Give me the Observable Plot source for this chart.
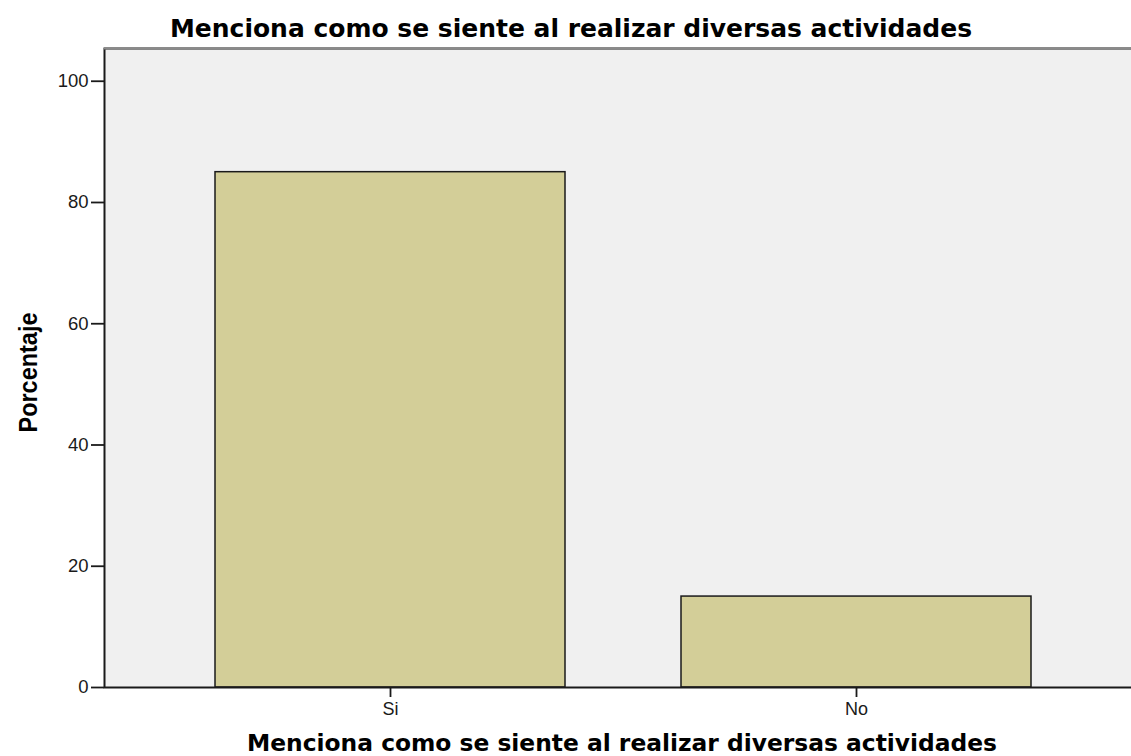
<!DOCTYPE html>
<html>
<head>
<meta charset="utf-8">
<script src="https://cdn.jsdelivr.net/npm/d3@7"></script>
<script src="https://cdn.jsdelivr.net/npm/@observablehq/plot@0.6"></script>
<style>
  html, body { margin: 0; padding: 0; background: #fff; }
  #wrap { position: relative; width: 1131px; height: 756px; overflow: hidden; }
  .t { position: absolute; white-space: nowrap; font-family: "DejaVu Sans", sans-serif; font-weight: bold;
       line-height: 1; transform-origin: 0 0; color: #000; }
  #chart { position: absolute; left: 0; top: 40px; }
</style>
</head>
<body>
<div id="wrap">
  <div id="title" class="t" style="font-size:24px; top:17.4px;">Menciona como se siente al realizar diversas actividades</div>
  <div id="chart"></div>
  <div id="xlabel" class="t" style="font-size:23px; top:732px;">Menciona como se siente al realizar diversas actividades</div>
</div>
<script>
// Data
const categories = ["Si", "No"];
const percentages = [85, 15];
const yTicks = [0, 20, 40, 60, 80, 100];
const yLabel = "Porcentaje";

const data = categories.map((c, i) => ({category: c, value: percentages[i]}));

const yTop = 105.4;
const tickFont = "'Liberation Sans', Arial, sans-serif";

const plot = Plot.plot({
  width: 1131,
  height: 685,
  marginLeft: 104,
  marginRight: -2,
  marginTop: 8,
  marginBottom: 38,
  style: {fontFamily: tickFont, fontSize: "18px", color: "#1a1a1a", background: "transparent"},
  x: {domain: categories, range: [104, 1142], paddingInner: 0.248, paddingOuter: 0.2355, label: null},
  y: {domain: [0, yTop], label: null},
  marks: [
    Plot.frame({fill: "#f0f0f0", stroke: null}),
    Plot.barY(data, {x: "category", y: "value", fill: "#d3ce98", stroke: "#1a1a1a", strokeWidth: 1.5}),
    Plot.frame({stroke: "#1a1a1a", strokeWidth: 2, fill: null}),
    Plot.ruleY([yTop], {stroke: "#8a8a8a", strokeWidth: 2}),
    Plot.axisY({ticks: yTicks, tickSize: 13, tickPadding: 3, tickFormat: d => String(d), strokeWidth: 1.8,
      stroke: "#1a1a1a", fill: "#1a1a1a", fontSize: 18.5, fontFamily: tickFont, label: null}),
    Plot.axisX({tickSize: 10, tickPadding: 5, strokeWidth: 1.8, stroke: "#1a1a1a", fill: "#1a1a1a",
      fontSize: 18, fontFamily: tickFont, label: null}),
    Plot.text([yLabel], {frameAnchor: "left", textAnchor: "middle", rotate: -90, dx: -67.3, dy: 4.5, lineAnchor: "bottom",
      fontSize: 26, fontWeight: "bold", fontFamily: tickFont, fill: "#000"})
  ]
});

document.getElementById("chart").appendChild(plot);

// stretch y label to measured length
d3.select(plot).selectAll("text").filter(function() { return this.textContent === yLabel; })
  .attr("textLength", 120).attr("lengthAdjust", "spacingAndGlyphs");

function fit(id, left, width) {
  const el = document.getElementById(id);
  el.style.left = left + "px";
  const w = el.getBoundingClientRect().width;
  el.style.transform = `scaleX(${width / w})`;
}
fit("title", 170, 802);
fit("xlabel", 247, 750);
</script>
</body>
</html>
